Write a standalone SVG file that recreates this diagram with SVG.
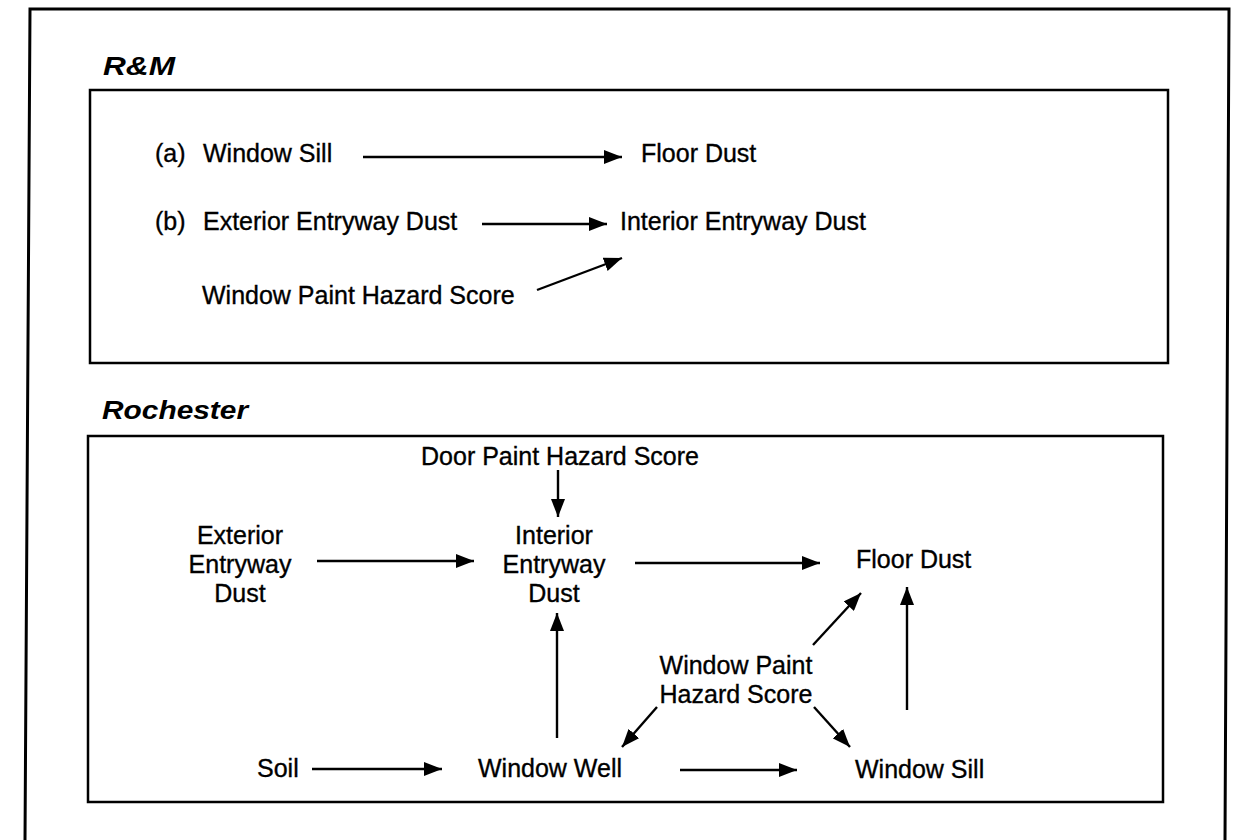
<svg xmlns="http://www.w3.org/2000/svg" width="1244" height="840" viewBox="0 0 1244 840">
<style>
.t{font-family:"Liberation Sans",Arial,sans-serif;font-size:25px;fill:#000;stroke:#000;stroke-width:0.35}
.h{font-family:"Liberation Sans",Arial,sans-serif;font-size:26px;font-weight:bold;font-style:italic;fill:#000}
.m{text-anchor:middle}
.box{fill:none;stroke:#000;stroke-width:2.5}
.c{stroke:#000;stroke-width:2.4;fill:none;marker-end:url(#ah)}
</style>
<defs>
<marker id="ah" markerUnits="userSpaceOnUse" markerWidth="18" markerHeight="14" refX="18" refY="7" orient="auto">
<path d="M0,0 L18,7 L0,14 z" fill="#000"/>
</marker>
</defs>
<rect width="1244" height="840" fill="#fff"/>
<path d="M25,840 L30,9 L1229,9 L1225,840" fill="none" stroke="#000" stroke-width="3"/>
<g id="rm-section">
<text class="h" x="103" y="75" textLength="72" lengthAdjust="spacingAndGlyphs">R&amp;M</text>
<rect class="box" x="90" y="90" width="1078" height="273"/>
</g>
<g id="roch-section">
<text class="h" x="102" y="419" textLength="146" lengthAdjust="spacingAndGlyphs">Rochester</text>
<rect class="box" x="88" y="436" width="1075" height="366"/>
</g>
<g id="rm-a-label"><text class="t" x="155" y="162">(a)</text></g>
<g id="rm-window-sill"><text class="t" x="203" y="162">Window Sill</text></g>
<g id="rm-floor-dust"><text class="t" x="641" y="162">Floor Dust</text></g>
<g id="rm-b-label"><text class="t" x="155" y="230">(b)</text></g>
<g id="rm-ext-dust"><text class="t" x="203" y="230">Exterior Entryway Dust</text></g>
<g id="rm-int-dust"><text class="t" x="620" y="230">Interior Entryway Dust</text></g>
<g id="rm-window-paint"><text class="t" x="202" y="304">Window Paint Hazard Score</text></g>
<g id="r-door-paint"><text class="t m" x="560" y="465">Door Paint Hazard Score</text></g>
<g id="r-ext-dust"><text class="t m" x="240" y="544"><tspan x="240">Exterior</tspan><tspan x="240" dy="29">Entryway</tspan><tspan x="240" dy="29">Dust</tspan></text></g>
<g id="r-int-dust"><text class="t m" x="554" y="544"><tspan x="554">Interior</tspan><tspan x="554" dy="29">Entryway</tspan><tspan x="554" dy="29">Dust</tspan></text></g>
<g id="r-floor-dust"><text class="t" x="856" y="568">Floor Dust</text></g>
<g id="r-window-paint"><text class="t m" x="736" y="674"><tspan x="736">Window Paint</tspan><tspan x="736" dy="29">Hazard Score</tspan></text></g>
<g id="r-soil"><text class="t" x="257" y="777">Soil</text></g>
<g id="r-window-well"><text class="t" x="478" y="777">Window Well</text></g>
<g id="r-window-sill"><text class="t" x="855" y="778">Window Sill</text></g>
<g id="connectors">
<line class="c" x1="363" y1="157" x2="622" y2="157"/>
<line class="c" x1="482" y1="224" x2="607" y2="224"/>
<line class="c" x1="537" y1="290" x2="622" y2="258"/>
<line class="c" x1="558" y1="470" x2="558" y2="517"/>
<line class="c" x1="317" y1="561" x2="474" y2="561"/>
<line class="c" x1="635" y1="563" x2="820" y2="563"/>
<line class="c" x1="557" y1="738" x2="557" y2="613"/>
<line class="c" x1="813" y1="645" x2="861" y2="593"/>
<line class="c" x1="907" y1="710" x2="907" y2="587"/>
<line class="c" x1="657" y1="707" x2="622" y2="747"/>
<line class="c" x1="814" y1="707" x2="850" y2="747"/>
<line class="c" x1="680" y1="770" x2="797" y2="770"/>
<line class="c" x1="312" y1="769" x2="442" y2="769"/>
</g>
</svg>
